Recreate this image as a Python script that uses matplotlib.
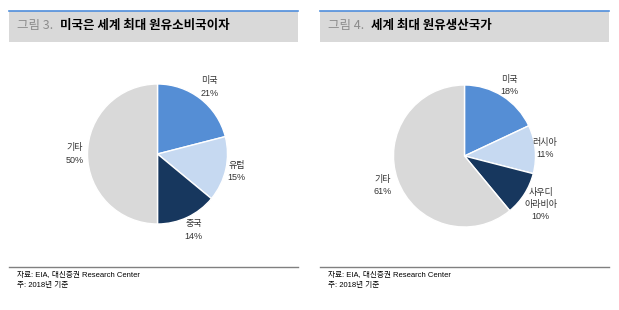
import numpy as np
import matplotlib.pyplot as plt
from matplotlib.patches import Rectangle
from matplotlib.lines import Line2D

plt.rcParams['font.family'] = ['Noto Sans CJK KR', 'DejaVu Sans']
ARIAL_KR = ['Liberation Sans', 'Noto Sans CJK KR']

W, H = 619, 310

# data
left_labels = ['미국', '유럽', '중국', '기타']
left_values = [21, 15, 14, 50]
right_labels = ['미국', '러시아', '사우디\n아라비아', '기타']
right_values = [18, 11, 10, 61]
colors = ['#558ED5', '#C6D9F1', '#17375E', '#D9D9D9']

panels = [
    dict(x0=9, x1=298, num='그림 3.', title='미국은 세계 최대 원유소비국이자',
         cx=157.5, cy=154, r=70, labels=left_labels, values=left_values,
         ldist=[1.21, 1.16, 1.2, 1.18]),
    dict(x0=320, x1=609, num='그림 4.', title='세계 최대 원유생산국가',
         cx=464.5, cy=156, r=71, labels=right_labels, values=right_values,
         ldist=[1.17, 1.14, 1.27, 1.22]),
]

fig = plt.figure(figsize=(W / 100, H / 100), dpi=100)

def fx(px):
    return px / W

def fy(py):
    return 1 - py / H

for p in panels:
    # title bar
    fig.patches.append(Rectangle((fx(p['x0']), fy(42)), fx(p['x1'] - p['x0']), (42 - 10.5) / H,
                                 transform=fig.transFigure, facecolor='#D9D9D9', edgecolor='none'))
    fig.lines.append(Line2D([fx(p['x0']), fx(p['x1'])], [fy(10.5), fy(10.5)],
                            transform=fig.transFigure, color='#4F8EDC', lw=1.2))
    fig.text(fx(p['x0'] + 8), fy(26), p['num'], fontsize=9, color='#8C8C8C', va='center')
    fig.text(fx(p['x0'] + 51), fy(26), p['title'], fontsize=9, fontweight='bold',
             color='black', va='center')

    # pie
    ax = fig.add_axes([fx(p['cx'] - p['r']), fy(p['cy'] + p['r']), 2 * p['r'] / W, 2 * p['r'] / H])
    wedges, texts = ax.pie(p['values'], colors=colors, startangle=90, counterclock=False,
                           wedgeprops=dict(edgecolor='white', linewidth=1))
    total = sum(p['values'])
    acc = 0
    for w, lab, v, d in zip(wedges, p['labels'], p['values'], p['ldist']):
        mid = np.deg2rad(90 - (acc + v / 2) / total * 360)
        acc += v
        ax.text(d * np.cos(mid), d * np.sin(mid), f'{lab}\n{v}%', ha='center', va='center',
                fontsize=6.5, color='#333333', linespacing=1.45, family=ARIAL_KR)
    ax.set_xlim(-1, 1)
    ax.set_ylim(-1, 1)
    ax.set_aspect('equal')
    ax.axis('off')

    # footer
    fig.lines.append(Line2D([fx(p['x0']), fx(p['x1'])], [fy(267), fy(267)],
                            transform=fig.transFigure, color='#808080', lw=1))
    fig.text(fx(p['x0'] + 8), fy(275.5), '자료: EIA, 대신증권 Research Center', fontsize=5.5,
             color='black', va='center', family=ARIAL_KR)
    fig.text(fx(p['x0'] + 8), fy(286), '주: 2018년 기준', fontsize=5.5, color='black',
             va='center', family=ARIAL_KR)

fig.savefig('out.png', dpi=100)
